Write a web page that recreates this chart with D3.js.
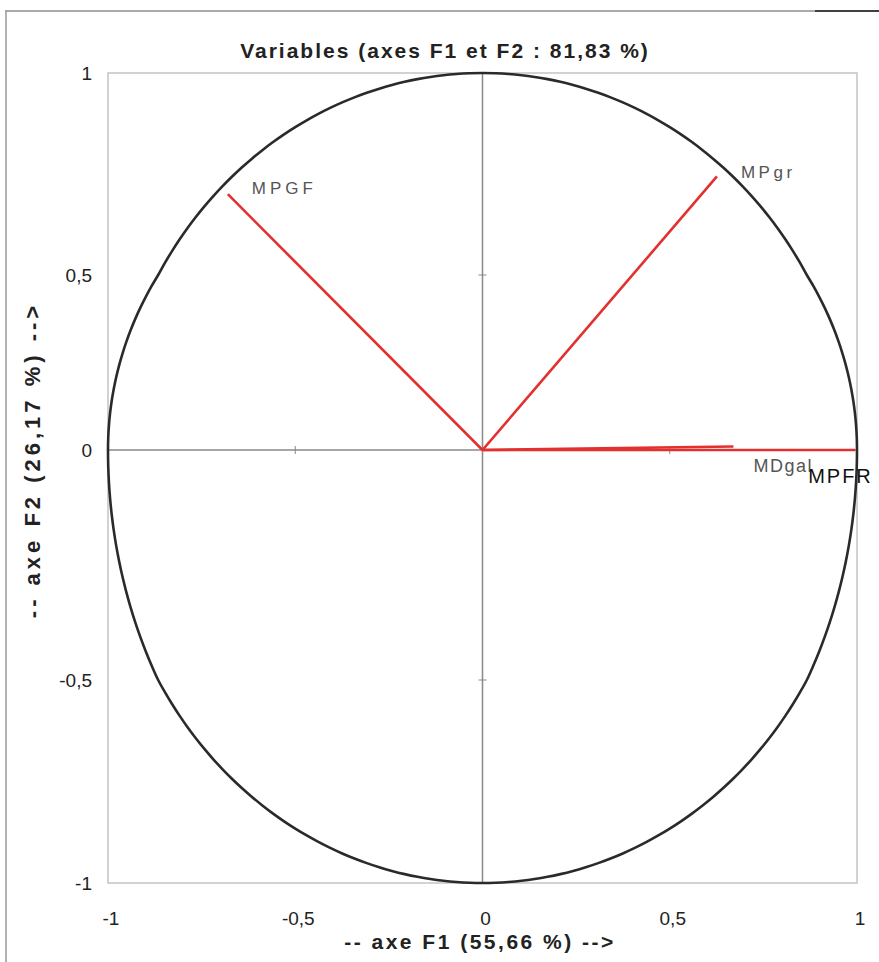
<!DOCTYPE html>
<html><head><meta charset="utf-8">
<script src="https://cdn.jsdelivr.net/npm/d3@7"></script>
<style>body{margin:0;background:#fff}svg{display:block}</style>
</head><body>
<script>
const variables = ["MPGF", "MPgr", "MDgal", "MPFR"];
const f1 = [-0.68, 0.626, 0.67, 0.995];
const f2 = [0.70, 0.744, 0.01, 0.0];
const tickValues = [-1, -0.5, 0, 0.5, 1];
const tickLabels = ["-1", "-0,5", "0", "0,5", "1"];
const title = "Variables (axes F1 et F2 : 81,83 %)";
const xTitle = "-- axe F1 (55,66 %) -->";
const yTitle = "-- axe F2 (26,17 %) -->";

const W = 879, H = 962;
const svg = d3.select("body").append("svg").attr("width", W).attr("height", H);
const L = 108, R = 857, T = 73, B = 883;
const x = d3.scaleLinear().domain([-1, 1]).range([L, R]);
const y = d3.scaleLinear().domain([-1, -0.5, 0, 0.5, 1]).range([B, 680, 450, 275, T]);

// outer frame
svg.append("line").attr("x1", 5).attr("y1", 11).attr("x2", 815).attr("y2", 11).attr("stroke", "#aaa").attr("stroke-width", 2);
svg.append("line").attr("x1", 815).attr("y1", 11).attr("x2", 879).attr("y2", 11).attr("stroke", "#000").attr("stroke-width", 1.5);
svg.append("line").attr("x1", 6).attr("y1", 11).attr("x2", 6).attr("y2", H).attr("stroke", "#999").attr("stroke-width", 1.5);

// plot border
svg.append("rect").attr("x", L).attr("y", T).attr("width", R - L).attr("height", B - T)
  .attr("fill", "none").attr("stroke", "#c4c4c4").attr("stroke-width", 1.5);

// axes lines through origin
svg.append("line").attr("x1", x(-1)).attr("x2", x(1)).attr("y1", y(0)).attr("y2", y(0)).attr("stroke", "#888").attr("stroke-width", 1.5);
svg.append("line").attr("x1", x(0)).attr("x2", x(0)).attr("y1", y(-1)).attr("y2", y(1)).attr("stroke", "#888").attr("stroke-width", 1.5);
tickValues.filter(d => d !== 0 && Math.abs(d) !== 1).forEach(d => {
  svg.append("line").attr("x1", x(d)).attr("x2", x(d)).attr("y1", y(0) - 4).attr("y2", y(0) + 4).attr("stroke", "#888");
  svg.append("line").attr("x1", x(0) - 4).attr("x2", x(0) + 4).attr("y1", y(d)).attr("y2", y(d)).attr("stroke", "#888");
});

// correlation circle
const angles = d3.range(0, 360, 2).map(a => a * Math.PI / 180);
svg.append("path")
  .attr("d", d3.line().x(a => x(Math.cos(a))).y(a => y(Math.sin(a))).curve(d3.curveCardinalClosed)(angles))
  .attr("fill", "none").attr("stroke", "#2a2a2a").attr("stroke-width", 2.6);

// vectors
variables.forEach((v, i) => {
  svg.append("line").attr("x1", x(0)).attr("y1", y(0)).attr("x2", x(f1[i])).attr("y2", y(f2[i]))
    .attr("stroke", "#e2302f").attr("stroke-width", 2.6);
});

const font = "Liberation Sans, Arial, sans-serif";
// labels
const lab = [
  {dx: 24, dy: 0, size: 17, fill: "#555", ls: 4},
  {dx: 24, dy: 2, size: 17, fill: "#555", ls: 3.5},
  {dx: 20, dy: 25, size: 18, fill: "#555", ls: 1.5},
  {dx: -47, dy: 33, size: 20, fill: "#111", ls: 2}
];
variables.forEach((v, i) => {
  svg.append("text").attr("x", x(f1[i]) + lab[i].dx).attr("y", y(f2[i]) + lab[i].dy)
    .attr("font-family", font).attr("font-size", lab[i].size)
    .attr("letter-spacing", lab[i].ls).attr("fill", lab[i].fill).text(v);
});

// tick labels
tickValues.forEach((d, i) => {
  svg.append("text").attr("x", x(d) + 3).attr("y", 925).attr("text-anchor", "middle")
    .attr("font-family", font).attr("font-size", 19).attr("fill", "#222").text(tickLabels[i]);
  svg.append("text").attr("x", 92).attr("y", y(d) + 7).attr("text-anchor", "end")
    .attr("font-family", font).attr("font-size", 19).attr("fill", "#222").text(tickLabels[i]);
});

// titles
svg.append("text").attr("x", 445).attr("y", 58).attr("text-anchor", "middle")
  .attr("font-family", font).attr("font-weight", "bold").attr("font-size", 21).attr("fill", "#222")
  .attr("letter-spacing", 2).text(title);
svg.append("text").attr("x", 480).attr("y", 949).attr("text-anchor", "middle")
  .attr("font-family", font).attr("font-weight", "bold").attr("font-size", 21).attr("fill", "#222")
  .attr("letter-spacing", 2.5).text(xTitle);
svg.append("text").attr("transform", "translate(40,460) rotate(-90)").attr("text-anchor", "middle")
  .attr("font-family", font).attr("font-weight", "bold").attr("font-size", 22).attr("fill", "#222")
  .attr("letter-spacing", 4).text(yTitle);
</script>
</body></html>
